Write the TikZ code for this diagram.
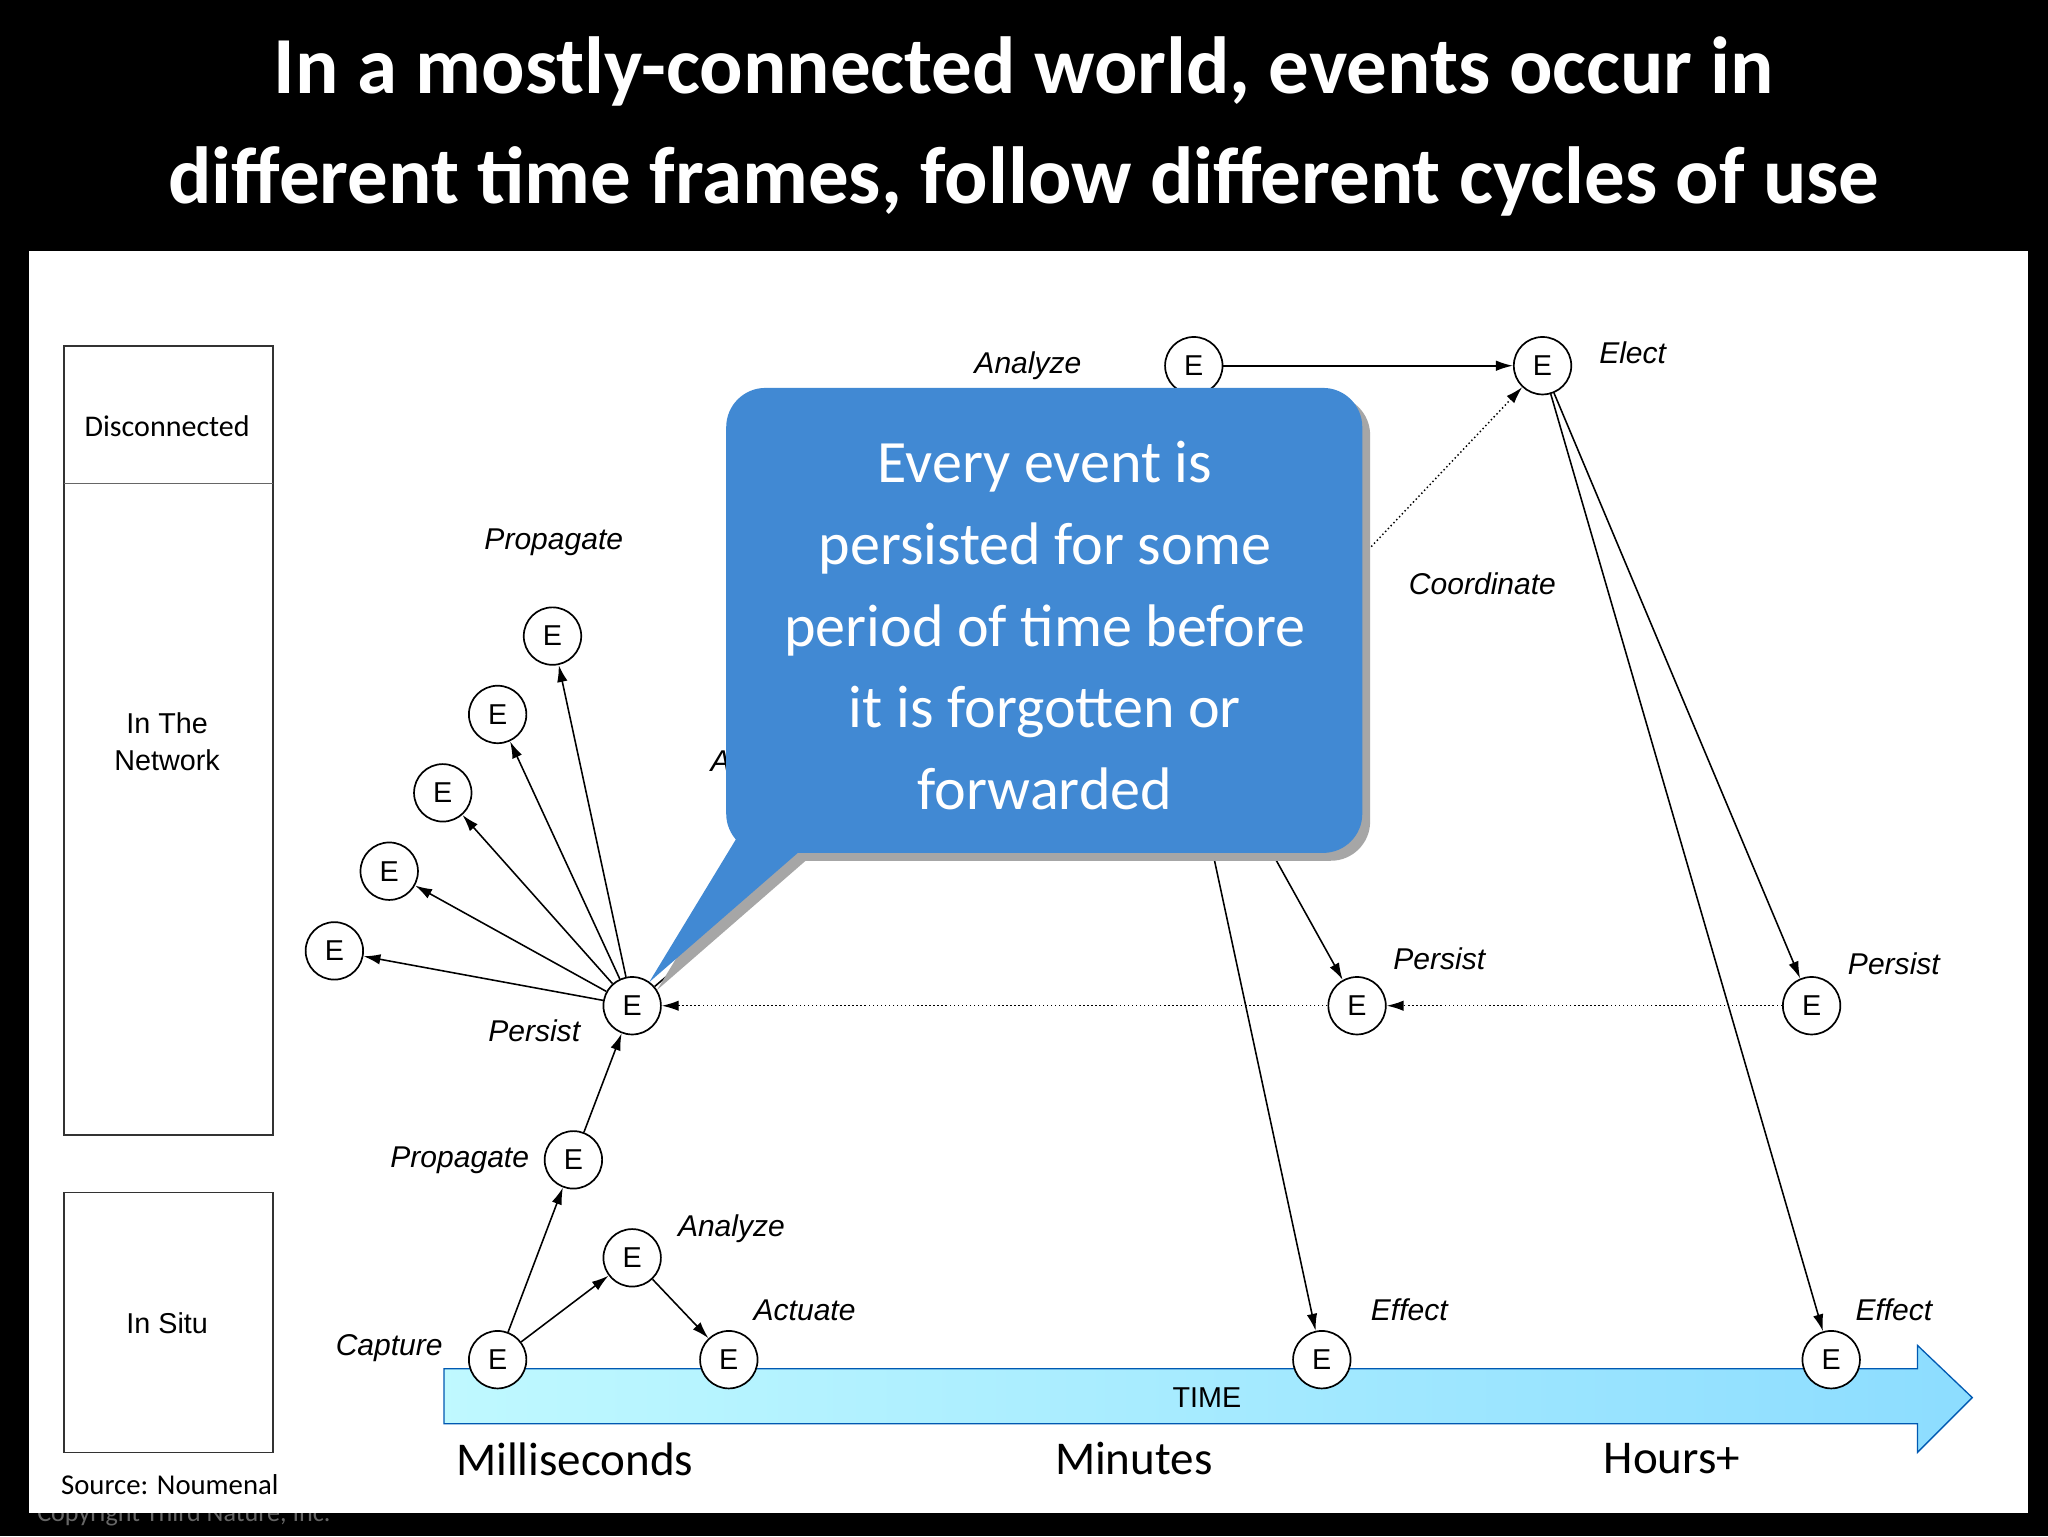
\documentclass[tikz,border=0pt]{standalone}
\usepackage{fontspec}
\setmainfont{Carlito}
\newfontfamily\hel{Liberation Sans}
\usetikzlibrary{arrows.meta}
\definecolor{callout}{HTML}{4189D3}
\begin{document}
\begin{tikzpicture}[x=1pt,y=-1pt,
  ev/.style={circle,draw,line width=1.3pt,fill=white,minimum size=44pt,inner sep=0pt,font=\hel\fontsize{22}{24}\selectfont},
  lab/.style={font=\hel\itshape\fontsize{23}{26}\selectfont},
  arr/.style={line width=1.2pt,-{Latex[length=13pt,width=8pt]}},
  dot/.style={line width=1.1pt,dotted,-{Latex[length=13pt,width=8pt]}},
  bx/.style={draw,line width=1.4pt,black!80}]
\useasboundingbox (0,0) rectangle (1568,1176);
\fill[black] (0,0) rectangle (1568,1176);
\node[text=white,font=\bfseries\fontsize{62}{84}\selectfont,align=center] (title) at (784,97) {In a mostly-connected world, events occur in\\different time frames, follow different cycles of use};
\node[text=black!60,font=\fontsize{20}{22}\selectfont,anchor=west] (copy) at (25,1160) {Copyright Third Nature, Inc.};
\fill[white] (22,192) rectangle (1553,1158);
% left boxes
\draw[bx] (49,265) rectangle (209,869);
\draw[black!60,line width=0.8pt] (49,370) -- (209,370);
\draw[bx] (49,913) rectangle (209,1112);
\node[font=\fontsize{23}{26}\selectfont] (dis) at (128,326) {Disconnected};
\node[font=\hel\fontsize{22}{28}\selectfont,align=center] (net) at (128,568) {In The\\Network};
\node[font=\hel\fontsize{22}{26}\selectfont] (situ) at (128,1013) {In Situ};
\node[font=\fontsize{22}{24}\selectfont] (src) at (130,1137) {Source: Noumenal};
% time arrow
\shade[left color=blue!10!cyan!25!white,right color=blue!30!cyan!45,draw=blue!50!cyan!70!black,line width=1pt]
 (340,1048)--(1468,1048)--(1468,1030)--(1510,1070)--(1468,1112)--(1468,1090)--(340,1090)--cycle;
\node[font=\hel\fontsize{22}{24}\selectfont] (time) at (924,1070) {TIME};
\node[font=\fontsize{36}{40}\selectfont] (ms) at (440,1117) {Milliseconds};
\node[font=\fontsize{36}{40}\selectfont] (min) at (868,1117) {Minutes};
\node[font=\fontsize{36}{40}\selectfont] (hr) at (1280,1117) {Hours+};
% nodes
\node[ev] (c1) at (381,1041) {E};
\node[ev] (a1) at (484,963) {E};
\node[ev] (ac) at (558,1041) {E};
\node[ev] (p1) at (439,888) {E};
\node[ev] (ps) at (484,770) {E};
\node[ev] (f1) at (423,487) {E};
\node[ev] (f2) at (381,547) {E};
\node[ev] (f3) at (339,607) {E};
\node[ev] (f4) at (298,667) {E};
\node[ev] (f5) at (256,728) {E};
\node[ev] (an) at (914,280) {E};
\node[ev] (el) at (1181,280) {E};
\node[ev] (ps2) at (1039,770) {E};
\node[ev] (ps3) at (1387,770) {E};
\node[ev] (ef1) at (1012,1041) {E};
\node[ev] (ef2) at (1402,1041) {E};
\coordinate (h1) at (800,500);
\coordinate (h2) at (900,520);
\coordinate (h3) at (1020,450);
% labels
\node[lab] (lc) at (298,1032) {Capture};
\node[lab] (la) at (560,941) {Analyze};
\node[lab] (lac) at (616,1003) {Actuate};
\node[lab] (lp) at (352,888) {Propagate};
\node[lab] (lps) at (409,789) {Persist};
\node[lab] (lpr) at (424,415) {Propagate};
\node[lab] (lan) at (787,280) {Analyze};
\node[lab] (lel) at (1250,270) {Elect};
\node[lab] (lco) at (1135,447) {Coordinate};
\node[lab] (lp2) at (1102,734) {Persist};
\node[lab] (lp3) at (1450,738) {Persist};
\node[lab] (le1) at (1079,1003) {Effect};
\node[lab] (le2) at (1450,1003) {Effect};
\node[lab] (lah) at (585,585) {Analyze};
\node[lab] (lph) at (1000,590) {Persist};
% connectors
\draw[arr] (c1) -- (a1);
\draw[arr] (a1) -- (ac);
\draw[arr] (c1) -- (p1);
\draw[arr] (p1) -- (ps);
\foreach \f in {f1,f2,f3,f4,f5} \draw[arr] (ps) -- (\f);
\draw[line width=1.2pt] (ps) -- (h1);
\draw[arr] (an) -- (el);
\draw[dot] (h3) -- (el);
\draw[arr] (h2) -- (ps2);
\draw[arr] (h2) -- (ef1);
\draw[arr] (el) -- (ps3);
\draw[arr] (el) -- (ef2);
\draw[dot] (ps3) -- (ps2);
\draw[dot] (ps2) -- (ps);
% callout
\begin{scope}[shift={(6,6)}]
\fill[black!35,rounded corners=30] (556,297) rectangle (1043,653);
\fill[black!35] (565,640)--(497,752)--(620,645)--cycle;
\end{scope}
\fill[callout,rounded corners=30] (556,297) rectangle (1043,653);
\fill[callout] (565,640)--(497,752)--(620,645)--cycle;
\node[text=white,font=\fontsize{46}{62.5}\selectfont,align=center] (co) at (800,479) {Every event is\\persisted for some\\period of time before\\it is forgotten or\\forwarded};
\end{tikzpicture}
\end{document}
